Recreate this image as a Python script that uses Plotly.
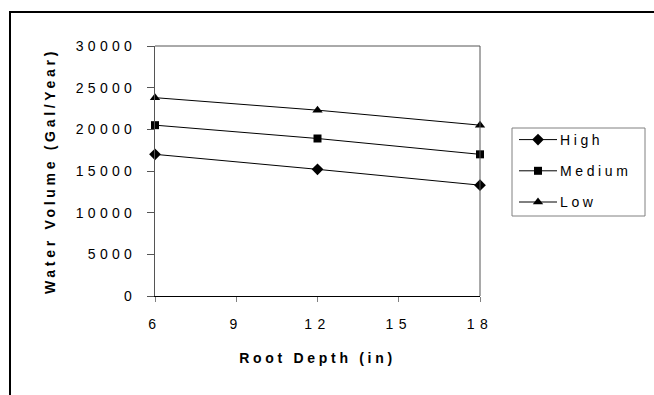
import plotly.graph_objects as go

root_depth = [6, 12, 18]
high = [17000, 15200, 13300]
medium = [20500, 18900, 17000]
low = [23800, 22300, 20500]
series_names = ["High", "Medium", "Low"]
x_ticks = [6, 9, 12, 15, 18]
y_ticks = [0, 5000, 10000, 15000, 20000, 25000, 30000]

W, H = 654, 395
L, R, T, B = 155, 174, 46, 99
pw, ph = W - L - R, H - T - B

def px_x(p):
    return (p - L) / pw

def px_y(p):
    return (H - B - p) / ph

fig = go.Figure()
symbols = ["diamond", "square", "triangle-up"]
sizes = [9, 8, 9]
for name, vals, sym, sz in zip(series_names, [high, medium, low], symbols, sizes):
    fig.add_trace(go.Scatter(
        x=root_depth, y=vals, name=name, mode="lines+markers",
        line=dict(color="black", width=1),
        marker=dict(symbol=sym, size=sz, color="black"),
        legendgroup=name, cliponaxis=False,
    ))

font_family = "Liberation Sans, Arial, sans-serif"

fig.update_layout(
    width=W, height=H,
    margin=dict(l=L, r=R, t=T, b=B, pad=0),
    paper_bgcolor="white", plot_bgcolor="white",
    font=dict(family=font_family, size=14, color="black"),
    showlegend=True,
    legend=dict(
        x=px_x(514), y=px_y(124), xanchor="left", yanchor="top",
        borderwidth=0, bgcolor="rgba(0,0,0,0)",
        font=dict(size=14, family=font_family),
        tracegroupgap=10, itemwidth=36,
    ),
    xaxis=dict(
        range=[6, 18], tickvals=x_ticks, ticktext=[str(v) for v in x_ticks],
        showgrid=False, zeroline=False, showline=True, linecolor="black", linewidth=1,
        mirror=False, ticks="outside", ticklen=5, tickcolor="#808080",
        tickfont=dict(size=14), ticklabelstandoff=10,
        title=dict(text="<b>Root Depth (in)</b>", font=dict(size=14), standoff=22),
    ),
    yaxis=dict(
        range=[0, 30000], tickvals=y_ticks, ticktext=[str(v) for v in y_ticks],
        showgrid=False, zeroline=False, showline=True, linecolor="#555555", linewidth=1,
        ticks="outside", ticklen=7, tickcolor="#555555",
        tickfont=dict(size=14), ticklabelstandoff=8,
        title=dict(text="<b>Water Volume (Gal/Year)</b>", font=dict(size=14), standoff=38),
    ),
    shapes=[
        dict(type="line", xref="paper", yref="paper", x0=0, x1=1, y0=1, y1=1,
             line=dict(color="#555555", width=1)),
        dict(type="line", xref="paper", yref="paper", x0=1, x1=1, y0=0, y1=1,
             line=dict(color="#555555", width=1)),
        # legend box
        dict(type="rect", xref="paper", yref="paper",
             x0=px_x(512), x1=px_x(645), y0=px_y(216), y1=px_y(128),
             line=dict(color="#808080", width=1), layer="below"),
        # outer chart border
        dict(type="rect", xref="paper", yref="paper",
             x0=px_x(10), x1=px_x(690), y0=px_y(430), y1=px_y(12),
             line=dict(color="black", width=2), layer="below"),
    ],
)

post = """
var gd = document.getElementById('{plot_id}');
function ls(sel, v){ gd.querySelectorAll(sel).forEach(function(t){ t.style.letterSpacing = v; }); }
ls('.xtick text', '5.5px');
ls('.ytick text', '4.3px');
ls('text.xtitle', '3.7px');
ls('text.ytitle', '3.7px');
ls('text.legendtext', '3.6px');
gd.querySelectorAll('.legend [clip-path]').forEach(function(e){ e.removeAttribute('clip-path'); });
gd.querySelectorAll('.legend .legendlines path').forEach(function(p){ p.setAttribute('d', 'M5,0h38'); });
gd.querySelectorAll('.legend .legendpoints path').forEach(function(p){ p.setAttribute('transform', 'translate(24,0)'); });
"""

fig.write_html("out.html", post_script=post)
